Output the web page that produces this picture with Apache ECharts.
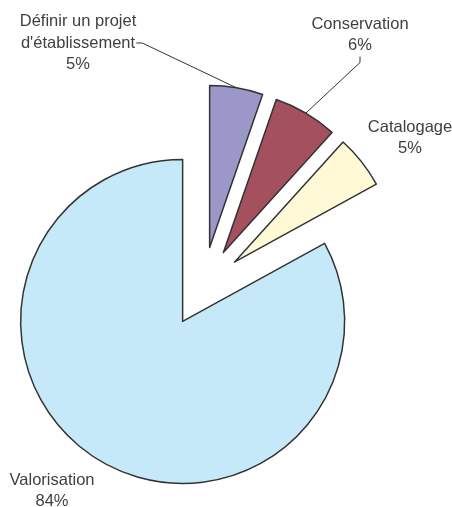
<!DOCTYPE html>
<html><head><meta charset="utf-8">
<script src="https://cdn.jsdelivr.net/npm/echarts@6/dist/echarts.min.js"></script>
<style>html,body{margin:0;padding:0;background:#fff}#c{width:452px;height:507px}</style>
</head><body><div id="c"></div>
<script>
const categories = ["Définir un projet\nd'établissement", "Conservation", "Catalogage", "Valorisation"];
const values = [5.3, 6.4, 5.3, 83.0];
const percentLabels = ["5%", "6%", "5%", "84%"];
const colors = ['#9B97C9', '#A4505E', '#FFF9D6', '#C6E9F9'];
const labelAnchors = [[78, 43], [360, 35], [410, 138], [52, 491]];
const showLeader = [true, true, false, false];

const chart = echarts.init(document.getElementById('c'), null, {renderer: 'canvas'});
chart.setOption({
  animation: false,
  backgroundColor: '#ffffff',
  series: [{
    type: 'pie',
    center: [203, 287],
    radius: 162,
    startAngle: 90,
    clockwise: true,
    selectedMode: 'multiple',
    selectedOffset: 40,
    silent: true,
    emphasis: {disabled: true},
    itemStyle: {borderColor: '#333333', borderWidth: 1.5},
    label: {show: false},
    labelLine: {show: false},
    data: categories.map((c, i) => ({
      name: c, value: values[i], selected: true,
      itemStyle: {color: colors[i]}
    }))
  }, {
    type: 'pie',
    center: [203, 287],
    radius: [199, 202],
    startAngle: 90,
    clockwise: true,
    silent: true,
    avoidLabelOverlap: false,
    emphasis: {disabled: true},
    itemStyle: {color: 'rgba(0,0,0,0)', borderWidth: 0},
    label: {
      show: true,
      position: 'outside',
      fontFamily: 'Liberation Sans, Arial, sans-serif',
      fontSize: 16.5,
      lineHeight: 21.5,
      color: '#404040',
      align: 'center',
      formatter: p => p.name + '\n' + percentLabels[p.dataIndex]
    },
    labelLine: {show: true, length: 6, length2: 6, lineStyle: {color: '#333333', width: 1}},
    labelLayout: p => ({
      x: labelAnchors[p.dataIndex][0],
      y: labelAnchors[p.dataIndex][1],
      align: 'center',
      verticalAlign: 'middle'
    }),
    data: categories.map((c, i) => ({
      name: c, value: values[i],
      labelLine: {show: showLeader[i]}
    }))
  }]
});
</script></body></html>
